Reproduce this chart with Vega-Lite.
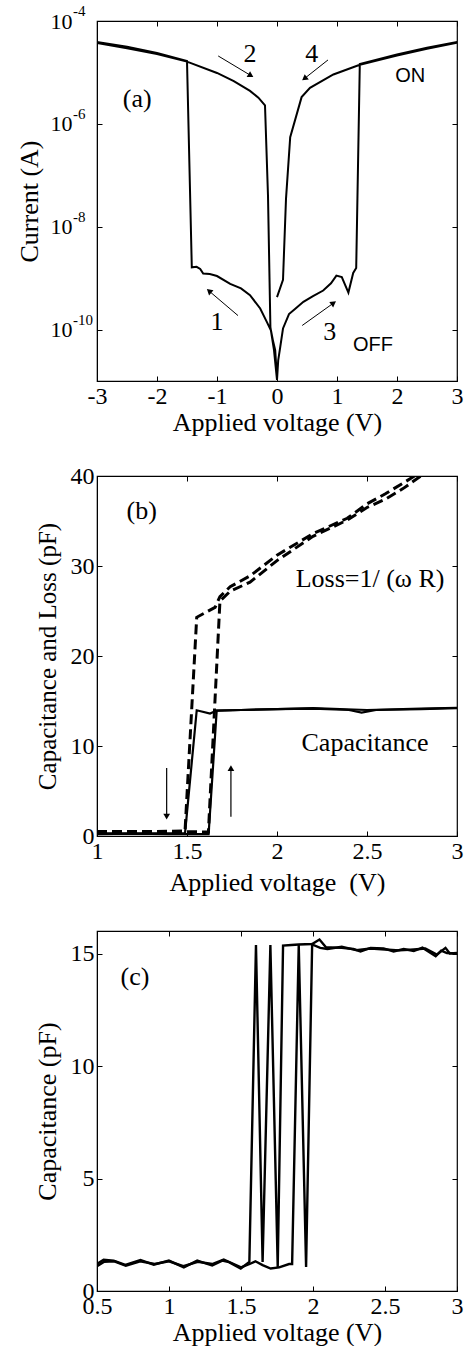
{
  "$schema": "https://vega.github.io/schema/vega-lite/v6.json",
  "background": "white",
  "padding": {"left": 15, "top": 3, "right": 5, "bottom": 0},
  "bounds": "flush",
  "spacing": 95,
  "config": {
    "font": "Liberation Serif",
    "view": {"stroke": "black", "strokeWidth": 1.2},
    "axis": {"grid": false, "domainColor": "black", "tickColor": "black", "tickSize": -5, "tickWidth": 1, "labelColor": "black", "titleColor": "black", "labelFont": "Liberation Serif", "titleFont": "Liberation Serif", "labelFontSize": 24, "titleFontSize": 26, "titleFontWeight": "normal", "labelPadding": 8, "titlePadding": 4, "labelOverlap": false, "labelFlush": false},
    "axisX": {"titlePadding": 1}
  },
  "datasets": {
    "ivcurve": [
      {"i":1,"V":0.0,"I":1.12e-11},{"i":2,"V":-0.03,"I":3.98e-11},{"i":3,"V":-0.07,"I":6.31e-11},{"i":4,"V":-0.1,"I":9.55e-11},{"i":5,"V":-0.17,"I":1.41e-10},{"i":6,"V":-0.28,"I":2.57e-10},{"i":7,"V":-0.45,"I":4.68e-10},{"i":8,"V":-0.6,"I":6.31e-10},{"i":9,"V":-0.78,"I":7.76e-10},{"i":10,"V":-1.0,"I":1.10e-9},{"i":11,"V":-1.12,"I":1.20e-9},{"i":12,"V":-1.23,"I":1.23e-9},{"i":13,"V":-1.28,"I":1.51e-9},{"i":14,"V":-1.34,"I":1.66e-9},{"i":15,"V":-1.42,"I":1.62e-9},{"i":16,"V":-1.5,"I":1.66e-5},{"i":17,"V":-2.0,"I":2.40e-5},{"i":18,"V":-2.5,"I":3.16e-5},{"i":19,"V":-3.0,"I":3.89e-5},
      {"i":20,"V":-3.0,"I":3.72e-5},{"i":21,"V":-2.5,"I":2.95e-5},{"i":22,"V":-2.0,"I":2.29e-5},{"i":23,"V":-1.5,"I":1.62e-5},{"i":24,"V":-1.0,"I":9.77e-6},{"i":25,"V":-0.72,"I":6.76e-6},{"i":26,"V":-0.45,"I":4.37e-6},{"i":27,"V":-0.31,"I":3.24e-6},{"i":28,"V":-0.2,"I":2.29e-6},{"i":29,"V":-0.15,"I":3.98e-8},{"i":30,"V":-0.11,"I":1.12e-10},{"i":31,"V":-0.05,"I":3.98e-11},{"i":32,"V":0.0,"I":1.05e-11},
      {"i":33,"V":0.02,"I":2.51e-11},{"i":34,"V":0.05,"I":4.27e-11},{"i":35,"V":0.1,"I":1.05e-10},{"i":36,"V":0.2,"I":2.0e-10},{"i":37,"V":0.3,"I":2.51e-10},{"i":38,"V":0.44,"I":3.47e-10},{"i":39,"V":0.6,"I":4.47e-10},{"i":40,"V":0.77,"I":5.75e-10},{"i":41,"V":0.9,"I":7.94e-10},{"i":42,"V":0.99,"I":1.12e-9},{"i":43,"V":1.08,"I":1.05e-9},{"i":44,"V":1.19,"I":5.25e-10},{"i":45,"V":1.27,"I":1.26e-9},{"i":46,"V":1.32,"I":1.58e-9},{"i":47,"V":1.38,"I":1.45e-5},{"i":48,"V":2.0,"I":2.24e-5},{"i":49,"V":2.5,"I":3.02e-5},{"i":50,"V":3.0,"I":3.89e-5},
      {"i":51,"V":3.0,"I":3.80e-5},{"i":52,"V":2.5,"I":2.88e-5},{"i":53,"V":2.0,"I":2.14e-5},{"i":54,"V":1.38,"I":1.41e-5},{"i":55,"V":0.94,"I":9.12e-6},{"i":56,"V":0.55,"I":5.01e-6},{"i":57,"V":0.41,"I":3.31e-6},{"i":58,"V":0.22,"I":5.50e-7},{"i":59,"V":0.15,"I":3.47e-8},{"i":60,"V":0.1,"I":9.3e-10},{"i":61,"V":0.0,"I":4.27e-10}
    ],
    "exponentsA": [
      {"e":"-4","I":1e-4},{"e":"-6","I":1e-6},{"e":"-8","I":1e-8},{"e":"-10","I":1e-10}
    ],
    "arrowsA": [
      {"n":2,"V1":-0.98,"I1":2.09e-5,"V2":-0.45,"I2":8.9e-6},
      {"n":4,"V1":0.85,"I1":1.75e-5,"V2":0.47,"I2":7.8e-6},
      {"n":1,"V1":-0.65,"I1":1.87e-10,"V2":-1.12,"I2":5.47e-10},
      {"n":3,"V1":0.42,"I1":1.2e-10,"V2":0.93,"I2":3.2e-10}
    ],
    "labelsA": [
      {"t":"(a)","V":-2.33,"I":3.1e-6},
      {"t":"2","V":-0.45,"I":2.29e-5},
      {"t":"4","V":0.58,"I":2.29e-5},
      {"t":"1","V":-1.0,"I":1.41e-10},
      {"t":"3","V":0.88,"I":9.0e-11}
    ],
    "statesA": [
      {"t":"ON","V":2.22,"I":8.4e-6},
      {"t":"OFF","V":1.6,"I":4.95e-11}
    ],
    "cvcurves": [
      {"s":"Cap up","k":"Capacitance","V":1.0,"C":0.2},{"s":"Cap up","k":"Capacitance","V":1.2,"C":0.25},{"s":"Cap up","k":"Capacitance","V":1.4,"C":0.2},{"s":"Cap up","k":"Capacitance","V":1.62,"C":0.2},{"s":"Cap up","k":"Capacitance","V":1.665,"C":13.94},{"s":"Cap up","k":"Capacitance","V":1.8,"C":14.0},{"s":"Cap up","k":"Capacitance","V":2.0,"C":14.1},{"s":"Cap up","k":"Capacitance","V":2.2,"C":14.15},{"s":"Cap up","k":"Capacitance","V":2.4,"C":14.0},{"s":"Cap up","k":"Capacitance","V":2.47,"C":13.7},{"s":"Cap up","k":"Capacitance","V":2.55,"C":14.0},{"s":"Cap up","k":"Capacitance","V":2.8,"C":14.1},{"s":"Cap up","k":"Capacitance","V":3.0,"C":14.2},
      {"s":"Cap down","k":"Capacitance","V":3.0,"C":14.25},{"s":"Cap down","k":"Capacitance","V":2.8,"C":14.15},{"s":"Cap down","k":"Capacitance","V":2.5,"C":14.0},{"s":"Cap down","k":"Capacitance","V":2.2,"C":14.2},{"s":"Cap down","k":"Capacitance","V":2.0,"C":14.1},{"s":"Cap down","k":"Capacitance","V":1.8,"C":14.0},{"s":"Cap down","k":"Capacitance","V":1.665,"C":13.94},{"s":"Cap down","k":"Capacitance","V":1.628,"C":13.6},{"s":"Cap down","k":"Capacitance","V":1.554,"C":13.97},{"s":"Cap down","k":"Capacitance","V":1.489,"C":0.3},{"s":"Cap down","k":"Capacitance","V":1.3,"C":0.3},{"s":"Cap down","k":"Capacitance","V":1.0,"C":0.3},
      {"s":"Loss up","k":"Loss","V":1.0,"C":0.5},{"s":"Loss up","k":"Loss","V":1.3,"C":0.5},{"s":"Loss up","k":"Loss","V":1.619,"C":0.45},{"s":"Loss up","k":"Loss","V":1.683,"C":26.1},{"s":"Loss up","k":"Loss","V":1.74,"C":27.2},{"s":"Loss up","k":"Loss","V":1.85,"C":28.2},{"s":"Loss up","k":"Loss","V":2.0,"C":30.6},{"s":"Loss up","k":"Loss","V":2.2,"C":33.3},{"s":"Loss up","k":"Loss","V":2.39,"C":35.1},{"s":"Loss up","k":"Loss","V":2.5,"C":36.5},{"s":"Loss up","k":"Loss","V":2.6,"C":37.4},{"s":"Loss up","k":"Loss","V":2.7,"C":38.6},{"s":"Loss up","k":"Loss","V":2.82,"C":40.3},
      {"s":"Loss down","k":"Loss","V":2.78,"C":40.2},{"s":"Loss down","k":"Loss","V":2.7,"C":39.2},{"s":"Loss down","k":"Loss","V":2.6,"C":38.0},{"s":"Loss down","k":"Loss","V":2.5,"C":36.9},{"s":"Loss down","k":"Loss","V":2.39,"C":35.3},{"s":"Loss down","k":"Loss","V":2.2,"C":33.6},{"s":"Loss down","k":"Loss","V":2.0,"C":31.2},{"s":"Loss down","k":"Loss","V":1.85,"C":28.9},{"s":"Loss down","k":"Loss","V":1.74,"C":27.7},{"s":"Loss down","k":"Loss","V":1.683,"C":26.6},{"s":"Loss down","k":"Loss","V":1.656,"C":25.4},{"s":"Loss down","k":"Loss","V":1.554,"C":24.3},{"s":"Loss down","k":"Loss","V":1.489,"C":0.55},{"s":"Loss down","k":"Loss","V":1.3,"C":0.5},{"s":"Loss down","k":"Loss","V":1.0,"C":0.45}
    ],
    "arrowsB": [
      {"n":"down","V":1.387,"C1":7.55,"C2":2.15},
      {"n":"up","V":1.744,"C1":2.15,"C2":7.55}
    ],
    "labelsB": [
      {"t":"(b)","V":1.248,"C":36.15},
      {"t":"Loss=1/ (ω R)","V":2.517,"C":28.54},
      {"t":"Capacitance","V":2.489,"C":10.33}
    ],
    "sweepsC": [
      {"s":"A","V":0.5,"C":1.2},{"s":"A","V":0.546,"C":1.39},{"s":"A","V":0.616,"C":1.35},{"s":"A","V":0.697,"C":1.16},{"s":"A","V":0.802,"C":1.38},{"s":"A","V":0.894,"C":1.17},{"s":"A","V":0.999,"C":1.35},{"s":"A","V":1.103,"C":1.05},{"s":"A","V":1.196,"C":1.35},{"s":"A","V":1.3,"C":1.13},{"s":"A","V":1.37,"C":1.35},{"s":"A","V":1.416,"C":1.28},{"s":"A","V":1.498,"C":1.0},{"s":"A","V":1.558,"C":1.29},{"s":"A","V":1.604,"C":15.38},{"s":"A","V":1.65,"C":1.29},{"s":"A","V":1.704,"C":15.38},{"s":"A","V":1.755,"C":1.07},{"s":"A","V":1.792,"C":15.35},{"s":"A","V":1.85,"C":15.38},{"s":"A","V":1.9,"C":15.4},{"s":"A","V":1.994,"C":15.42},{"s":"A","V":2.045,"C":15.62},{"s":"A","V":2.09,"C":15.28},{"s":"A","V":2.2,"C":15.25},{"s":"A","V":2.28,"C":15.2},{"s":"A","V":2.33,"C":15.09},{"s":"A","V":2.4,"C":15.25},{"s":"A","V":2.49,"C":15.23},{"s":"A","V":2.56,"C":15.09},{"s":"A","V":2.63,"C":15.2},{"s":"A","V":2.7,"C":15.11},{"s":"A","V":2.76,"C":15.26},{"s":"A","V":2.852,"C":14.88},{"s":"A","V":2.89,"C":15.13},{"s":"A","V":2.93,"C":15.02},{"s":"A","V":3.0,"C":15.0},
      {"s":"B","V":0.5,"C":1.1},{"s":"B","V":0.55,"C":1.3},{"s":"B","V":0.62,"C":1.32},{"s":"B","V":0.7,"C":1.12},{"s":"B","V":0.8,"C":1.32},{"s":"B","V":0.9,"C":1.2},{"s":"B","V":1.0,"C":1.32},{"s":"B","V":1.1,"C":1.1},{"s":"B","V":1.2,"C":1.3},{"s":"B","V":1.3,"C":1.2},{"s":"B","V":1.38,"C":1.4},{"s":"B","V":1.45,"C":1.2},{"s":"B","V":1.5,"C":1.05},{"s":"B","V":1.56,"C":1.2},{"s":"B","V":1.6,"C":1.32},{"s":"B","V":1.65,"C":1.15},{"s":"B","V":1.706,"C":1.0},{"s":"B","V":1.765,"C":1.05},{"s":"B","V":1.834,"C":1.2},{"s":"B","V":1.855,"C":1.2},{"s":"B","V":1.901,"C":15.38},{"s":"B","V":1.952,"C":1.07},{"s":"B","V":1.994,"C":15.4},{"s":"B","V":2.05,"C":15.25},{"s":"B","V":2.1,"C":15.2},{"s":"B","V":2.2,"C":15.3},{"s":"B","V":2.3,"C":15.15},{"s":"B","V":2.4,"C":15.22},{"s":"B","V":2.5,"C":15.18},{"s":"B","V":2.6,"C":15.14},{"s":"B","V":2.7,"C":15.18},{"s":"B","V":2.78,"C":15.22},{"s":"B","V":2.86,"C":14.95},{"s":"B","V":2.92,"C":15.25},{"s":"B","V":2.95,"C":15.0},{"s":"B","V":3.0,"C":15.02}
    ],
    "labelsC": [
      {"t":"(c)","V":0.764,"C":13.96}
    ]
  },
  "vconcat": [
    {
      "width": 360, "height": 360,
      "resolve": {"axis": {"x": "independent", "y": "independent"}},
      "layer": [
        {
          "data": {"name": "ivcurve"},
          "mark": {"type": "line", "color": "black", "strokeWidth": 2, "clip": true},
          "encoding": {
            "x": {"field": "V", "type": "quantitative", "scale": {"domain": [-3, 3], "nice": false, "zero": false},
                  "axis": {"values": [-3, -2, -1, 0, 1, 2, 3], "title": "Applied voltage (V)", "labelExpr": "datum.value < 0 ? '-' + abs(datum.value) : '' + datum.value"}},
            "y": {"field": "I", "type": "quantitative", "scale": {"type": "log", "domain": [1e-11, 1e-4], "nice": false},
                  "axis": {"values": [1e-10, 1e-8, 1e-6, 1e-4], "title": "Current (A)", "labelFontSize": 22, "labelPadding": 30, "titlePadding": 8,
                           "labelExpr": "'10'"}},
            "order": {"field": "i", "type": "quantitative"}
          }
        },
        {
          "data": {"name": "exponentsA"},
          "mark": {"type": "text", "font": "Liberation Serif", "fontSize": 15, "color": "black", "align": "left", "baseline": "middle", "dx": -24, "dy": -10},
          "encoding": {
            "x": {"datum": -3, "type": "quantitative", "axis": null},
            "y": {"field": "I", "type": "quantitative", "axis": null},
            "text": {"field": "e"}
          }
        },
        {
          "data": {"name": "arrowsA"},
          "mark": {"type": "rule", "color": "black", "strokeWidth": 1},
          "encoding": {
            "x": {"field": "V1", "type": "quantitative", "scale": {"domain": [-3, 3], "nice": false, "zero": false}, "axis": null},
            "y": {"field": "I1", "type": "quantitative", "scale": {"type": "log", "domain": [1e-11, 1e-4], "nice": false}, "axis": null},
            "x2": {"field": "V2"},
            "y2": {"field": "I2"}
          }
        },
        {
          "data": {"name": "arrowsA"},
          "transform": [{"filter": "datum.n == 2"}],
          "mark": {"type": "point", "shape": "triangle", "filled": true, "color": "black", "opacity": 1, "size": 45, "angle": 121},
          "encoding": {
            "x": {"field": "V2", "type": "quantitative", "axis": null},
            "y": {"field": "I2", "type": "quantitative", "axis": null}
          }
        },
        {
          "data": {"name": "arrowsA"},
          "transform": [{"filter": "datum.n == 4"}],
          "mark": {"type": "point", "shape": "triangle", "filled": true, "color": "black", "opacity": 1, "size": 45, "angle": 232},
          "encoding": {
            "x": {"field": "V2", "type": "quantitative", "axis": null},
            "y": {"field": "I2", "type": "quantitative", "axis": null}
          }
        },
        {
          "data": {"name": "arrowsA"},
          "transform": [{"filter": "datum.n == 1"}],
          "mark": {"type": "point", "shape": "triangle", "filled": true, "color": "black", "opacity": 1, "size": 45, "angle": 311},
          "encoding": {
            "x": {"field": "V2", "type": "quantitative", "axis": null},
            "y": {"field": "I2", "type": "quantitative", "axis": null}
          }
        },
        {
          "data": {"name": "arrowsA"},
          "transform": [{"filter": "datum.n == 3"}],
          "mark": {"type": "point", "shape": "triangle", "filled": true, "color": "black", "opacity": 1, "size": 45, "angle": 55},
          "encoding": {
            "x": {"field": "V2", "type": "quantitative", "axis": null},
            "y": {"field": "I2", "type": "quantitative", "axis": null}
          }
        },
        {
          "data": {"name": "labelsA"},
          "mark": {"type": "text", "font": "Liberation Serif", "fontSize": 26, "color": "black", "align": "center", "baseline": "middle"},
          "encoding": {
            "x": {"field": "V", "type": "quantitative", "axis": null},
            "y": {"field": "I", "type": "quantitative", "axis": null},
            "text": {"field": "t"}
          }
        },
        {
          "data": {"name": "statesA"},
          "mark": {"type": "text", "font": "Liberation Sans", "fontSize": 20, "color": "black", "align": "center", "baseline": "middle"},
          "encoding": {
            "x": {"field": "V", "type": "quantitative", "axis": {"orient": "top", "values": [-3, -2, -1, 0, 1, 2, 3], "labels": false, "title": null, "domain": false}},
            "y": {"field": "I", "type": "quantitative", "axis": {"orient": "right", "values": [1e-10, 1e-8, 1e-6, 1e-4], "labels": false, "title": null, "domain": false}},
            "text": {"field": "t"}
          }
        }
      ]
    },
    {
      "width": 360, "height": 360,
      "resolve": {"axis": {"x": "independent", "y": "independent"}},
      "layer": [
        {
          "data": {"name": "cvcurves"},
          "transform": [{"filter": "datum.k == 'Capacitance'"}],
          "mark": {"type": "line", "color": "black", "strokeWidth": 2.2, "clip": true},
          "encoding": {
            "x": {"field": "V", "type": "quantitative", "scale": {"domain": [1, 3], "nice": false, "zero": false},
                  "axis": {"values": [1, 1.5, 2, 2.5, 3], "title": "Applied voltage \u00a0(V)", "titlePadding": 6, "labelExpr": "'' + datum.value"}},
            "y": {"field": "C", "type": "quantitative", "scale": {"domain": [0, 40], "nice": false},
                  "axis": {"values": [0, 10, 20, 30, 40], "title": "Capacitance and Loss (pF)", "titleFontSize": 25, "labelPadding": 8, "titlePadding": 10}},
            "detail": {"field": "s"}
          }
        },
        {
          "data": {"name": "cvcurves"},
          "transform": [{"filter": "datum.k == 'Loss'"}],
          "mark": {"type": "line", "color": "black", "strokeWidth": 3, "strokeDash": [10, 5], "clip": true},
          "encoding": {
            "x": {"field": "V", "type": "quantitative", "axis": null},
            "y": {"field": "C", "type": "quantitative", "axis": null},
            "detail": {"field": "s"}
          }
        },
        {
          "data": {"name": "arrowsB"},
          "mark": {"type": "rule", "color": "black", "strokeWidth": 1.2},
          "encoding": {
            "x": {"field": "V", "type": "quantitative", "axis": null},
            "y": {"field": "C1", "type": "quantitative", "axis": null},
            "y2": {"field": "C2"}
          }
        },
        {
          "data": {"name": "arrowsB"},
          "transform": [{"filter": "datum.n == 'down'"}],
          "mark": {"type": "point", "shape": "triangle-down", "filled": true, "color": "black", "opacity": 1, "size": 45},
          "encoding": {
            "x": {"field": "V", "type": "quantitative", "axis": null},
            "y": {"field": "C2", "type": "quantitative", "axis": null}
          }
        },
        {
          "data": {"name": "arrowsB"},
          "transform": [{"filter": "datum.n == 'up'"}],
          "mark": {"type": "point", "shape": "triangle-up", "filled": true, "color": "black", "opacity": 1, "size": 45},
          "encoding": {
            "x": {"field": "V", "type": "quantitative", "axis": null},
            "y": {"field": "C2", "type": "quantitative", "axis": null}
          }
        },
        {
          "data": {"name": "labelsB"},
          "mark": {"type": "text", "font": "Liberation Serif", "fontSize": 26, "color": "black", "align": "center", "baseline": "middle"},
          "encoding": {
            "x": {"field": "V", "type": "quantitative", "axis": {"orient": "top", "values": [1, 1.5, 2, 2.5, 3], "labels": false, "title": null, "domain": false}},
            "y": {"field": "C", "type": "quantitative", "axis": {"orient": "right", "values": [0, 10, 20, 30, 40], "labels": false, "title": null, "domain": false}},
            "text": {"field": "t"}
          }
        }
      ]
    },
    {
      "width": 360, "height": 360,
      "resolve": {"axis": {"x": "independent", "y": "independent"}},
      "layer": [
        {
          "data": {"name": "sweepsC"},
          "mark": {"type": "line", "color": "black", "strokeWidth": 2.4, "clip": true},
          "encoding": {
            "x": {"field": "V", "type": "quantitative", "scale": {"domain": [0.5, 3], "nice": false, "zero": false},
                  "axis": {"values": [0.5, 1, 1.5, 2, 2.5, 3], "title": "Applied voltage (V)", "labelExpr": "'' + datum.value"}},
            "y": {"field": "C", "type": "quantitative", "scale": {"domain": [0, 16], "nice": false},
                  "axis": {"values": [0, 5, 10, 15], "title": "Capacitance (pF)", "labelPadding": 8, "titlePadding": 10}},
            "detail": {"field": "s"}
          }
        },
        {
          "data": {"name": "labelsC"},
          "mark": {"type": "text", "font": "Liberation Serif", "fontSize": 26, "color": "black", "align": "center", "baseline": "middle"},
          "encoding": {
            "x": {"field": "V", "type": "quantitative", "axis": {"orient": "top", "values": [0.5, 1, 1.5, 2, 2.5, 3], "labels": false, "title": null, "domain": false}},
            "y": {"field": "C", "type": "quantitative", "axis": {"orient": "right", "values": [0, 5, 10, 15], "labels": false, "title": null, "domain": false}},
            "text": {"field": "t"}
          }
        }
      ]
    }
  ]
}
